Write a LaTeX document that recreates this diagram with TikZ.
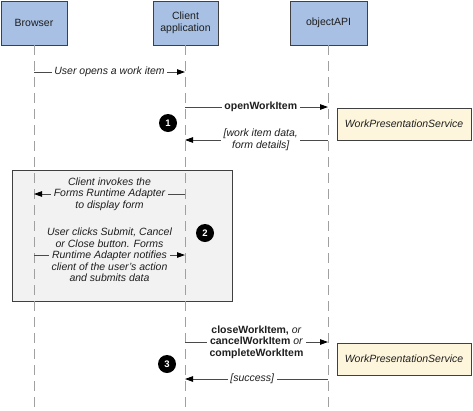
\documentclass[tikz,border=0pt]{standalone}
\usepackage{fontspec}
\setmainfont{Liberation Sans}
\usetikzlibrary{arrows.meta}
\definecolor{partblue}{HTML}{A8C0E4}
\definecolor{boxline}{HTML}{404040}
\definecolor{lifegray}{HTML}{A0A0A0}
\definecolor{msggray}{HTML}{4A4A4A}
\definecolor{svcyellow}{HTML}{FDF6DC}
\definecolor{grayfill}{HTML}{F2F2F2}
\definecolor{txt}{HTML}{1E1E1E}
\newcommand\gapbg[2]{{\setlength{\fboxsep}{0pt}\colorbox{#1}{\strut\hspace{3pt}#2\hspace{3pt}}}}
\begin{document}
\begin{tikzpicture}[x=1pt,y=-1pt,font=\fontsize{10.5}{11.5}\selectfont]
\useasboundingbox (0,0) rectangle (473,410);
\tikzset{
  part/.style={draw=boxline,fill=partblue,minimum height=44pt,align=center,inner sep=0pt,line width=0.8pt,text=txt},
  life/.style={draw=lifegray,dash pattern=on 10pt off 6pt,line width=0.8pt},
  msg/.style={draw=msggray,line width=0.9pt,-{Triangle[length=8pt,width=5.5pt,color=black]}},
  lbl/.style={fill=white,inner sep=2.5pt,align=center,text=txt},
  lblnf/.style={inner sep=0pt,align=center,text=txt},
  num/.style={circle,fill=black,text=white,font=\fontsize{9.5}{9.5}\selectfont\bfseries,minimum size=18pt,inner sep=0pt},
  svc/.style={draw=boxline,fill=svcyellow,minimum width=134pt,minimum height=32pt,line width=0.8pt,font=\fontsize{10.5}{11.5}\selectfont\itshape,inner sep=0pt,text=txt},
  region/.style={draw=boxline,fill=grayfill,line width=0.8pt,minimum width=220pt,minimum height=131pt,inner sep=0pt}
}
% grey region
\node[region] (area) at (122,235.5) {};
% participants
\node[part,minimum width=66pt] (browser) at (34,23) {Browser};
\node[part,minimum width=65pt] (client) at (185.5,23) {Client\\application};
\node[part,minimum width=77pt] (api) at (328.5,23) {objectAPI};
% lifeline ends
\coordinate (bend) at (34,410);
\coordinate (cend) at (185,410);
\coordinate (aend) at (328,410);
\draw[life] (browser.south) -- (bend);
\draw[life] (client.south -| cend) -- (cend);
\draw[life] (api.south -| aend) -- (aend);
% message points
\coordinate (m1s) at (34,72);   \coordinate (m1e) at (185,72);
\coordinate (m2s) at (185,107); \coordinate (m2e) at (328,107);
\coordinate (m3s) at (328,140); \coordinate (m3e) at (185,140);
\coordinate (m4s) at (185,194); \coordinate (m4e) at (34,194);
\coordinate (m5s) at (34,255);  \coordinate (m5e) at (185,255);
\coordinate (m6s) at (185,342); \coordinate (m6e) at (328,342);
\coordinate (m7s) at (328,379); \coordinate (m7e) at (185,379);
% messages
\draw[msg] (m1s) -- node[lbl,font=\fontsize{10.5}{11.5}\selectfont\itshape] (l1) {User opens a work item} (m1e);
\draw[msg] (m2s) -- node[lbl,pos=0.53,font=\fontsize{10.5}{11.5}\selectfont\bfseries] (l2) {openWorkItem} (m2e);
\draw[msg] (m3s) -- node[lbl,pos=0.47,font=\fontsize{10.5}{11.5}\selectfont\itshape] (l3) {[work item data,\\form details]} (m3e);
\draw[msg] (m4s) -- node[lblnf,font=\fontsize{10.5}{11.5}\selectfont\itshape] (l4) {Client invokes the\\\gapbg{grayfill}{Forms Runtime Adapter}\\to display form} (m4e);
\draw[msg] (m5s) -- node[lblnf,font=\fontsize{10.5}{11.5}\selectfont\itshape] (l5) {User clicks Submit, Cancel\\or Close button. Forms\\\gapbg{grayfill}{Runtime Adapter notifies}\\client of the user's action\\and submits data} (m5e);
\draw[msg] (m6s) -- node[lblnf] (l6) {\textbf{closeWorkItem,} \textit{or}\\\gapbg{white}{\textbf{cancelWorkItem} \textit{or}}\\\textbf{completeWorkItem}} (m6e);
\draw[msg] (m7s) -- node[lbl,pos=0.53,font=\fontsize{10.5}{11.5}\selectfont\itshape] (l7) {[success]} (m7e);
% services
\node[svc] (svc1) at (404,124) {WorkPresentationService};
\node[svc] (svc2) at (404,359) {WorkPresentationService};
% step numbers
\node[num] (n1) at (168,123) {1};
\node[num] (n2) at (205,233) {2};
\node[num] (n3) at (167,364) {3};
\end{tikzpicture}
\end{document}
